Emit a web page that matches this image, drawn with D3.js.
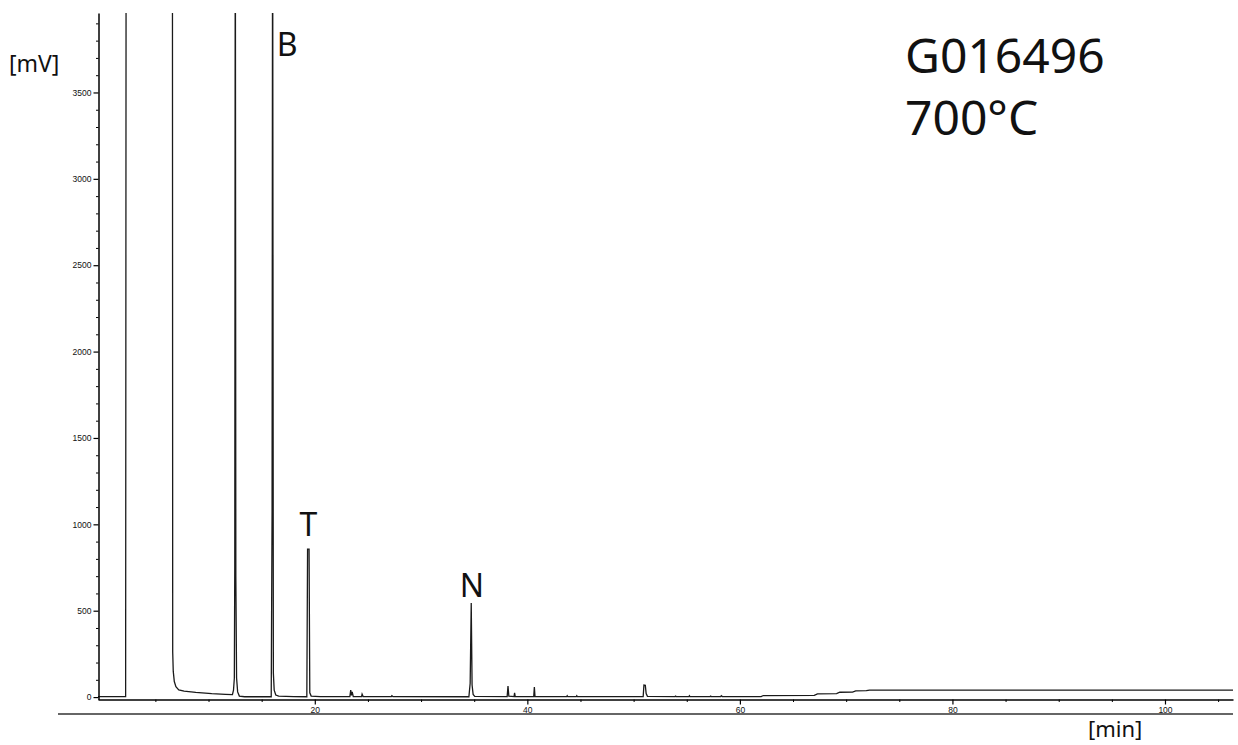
<!DOCTYPE html>
<meta charset="utf-8">
<html lang="en">
<head>
  <title>Chromatogram G016496 700°C</title>
  <script src="https://d3js.org/d3.v7.min.js"></script>
  <style>
    body { margin: 0; background: #fff; }
    .tick text { font-family: "Liberation Sans", Arial, sans-serif; font-size: 8.5px; fill: #111; }
    .lbl { font-family: "Noto Sans", sans-serif; fill: #111; }
  </style>
</head>
<body>
<div id="chart"></div>
<script>

// retention time [min] and detector signal [mV]
// (5000 = off scale, clipped at the top of the plot)
var traceTime = [-0.4, 2.2, 2.25, 6.6, 6.63, 6.68, 6.78, 6.93, 7.2, 7.7, 8.8, 10.3, 11.6, 12.25,
  12.35, 12.43, 12.47, 12.52, 12.57, 12.64, 12.74, 12.9, 13.4, 15.9, 15.98, 16.03, 16.1, 16.18, 16.33, 16.6,
  18.0, 19.25, 19.32, 19.46, 19.53, 19.66, 20.5, 23.3, 23.38, 23.45, 23.52, 23.62, 24.4, 24.45, 24.55,
  27.2, 27.25, 27.35, 34.5, 34.62, 34.72, 34.8, 34.9, 35.05, 38.1, 38.18, 38.26, 38.75, 38.8, 38.86,
  40.6, 40.66, 40.72, 43.7, 43.75, 43.8, 44.6, 44.65, 44.7, 50.9, 50.97, 51.1, 51.18, 51.3,
  53.9, 53.95, 54.0, 55.2, 55.25, 55.3, 57.2, 57.25, 57.3, 58.2, 58.25, 58.35,
  62.0, 62.2, 67.0, 67.3, 69.1, 69.4, 70.6, 70.9, 71.9, 72.2, 106.4];
var traceMV = [3, 3, 5000, 5000, 260, 150, 90, 60, 42, 34, 27, 20, 16, 14,
  40, 110, 760, 5000, 700, 110, 30, 6, 2, 2, 1080, 5000, 140, 40, 12, 5,
  3, 2, 856, 856, 25, 6, 3, 3, 40, 10, 30, 3, 3, 17, 3,
  3, 8, 3, 2, 80, 544, 70, 15, 4, 3, 64, 5, 3, 25, 3,
  3, 58, 3, 3, 8, 3, 3, 8, 3, 3, 70, 68, 20, 4,
  3, 6, 3, 3, 8, 3, 3, 6, 3, 3, 8, 3,
  3, 9, 10, 19, 20, 28, 29, 36, 37, 40, 40];

// axis ticks
var yMajor = [0, 500, 1000, 1500, 2000, 2500, 3000, 3500];
var yMinor = [100, 200, 300, 400, 600, 700, 800, 900, 1100, 1200, 1300, 1400, 1600, 1700, 1800, 1900,
  2100, 2200, 2300, 2400, 2600, 2700, 2800, 2900, 3100, 3200, 3300, 3400, 3600, 3700, 3800, 3900];
var xMajor = [20, 40, 60, 80, 100];
var xMinor = [5, 10, 15, 25, 30, 35, 45, 50, 55, 65, 70, 75, 85, 90, 95, 105];

// peak labels and sample caption
var peakNames = ["B", "T", "N"];
var peakTimes = [17.4, 19.39, 34.79];
var peakLabelMV = [3710, 930, 580];
var caption = ["G016496", "700°C"];

var width = 1238, height = 745;

var svg = d3.select("#chart")
  .append("svg")
    .attr("width", width)
    .attr("height", height);

var x = d3.scaleLinear()
    .domain([-0.4, 106.4])
    .range([98, 1233]);

var y = d3.scaleLinear()
    .domain([-14, 3960])
    .range([699.5, 13]);

// clip the trace to the plot area
svg.append("clipPath")
    .attr("id", "plotclip")
  .append("rect")
    .attr("x", 98)
    .attr("y", 13)
    .attr("width", 1233 - 98)
    .attr("height", 699.5 - 13);

var points = traceTime.map(function(t, i) { return [t, traceMV[i]]; });

var line = d3.line()
    .x(function(d) { return x(d[0]); })
    .y(function(d) { return y(d[1]); });

svg.append("path")
    .datum(points)
    .attr("clip-path", "url(#plotclip)")
    .attr("d", line)
    .attr("fill", "none")
    .attr("stroke", "#1a1a1a")
    .attr("stroke-width", 1.3)
    .attr("stroke-linejoin", "miter");

// Y axis: minor ticks, then major ticks with labels
svg.append("g")
    .attr("transform", "translate(98.5,0)")
    .call(d3.axisLeft(y).tickValues(yMinor).tickSize(2.5).tickFormat(""))
    .call(function(g) { g.select(".domain").remove(); });

svg.append("g")
    .attr("transform", "translate(98.5,0)")
    .call(d3.axisLeft(y).tickValues(yMajor).tickSize(5).tickSizeOuter(0).tickPadding(2)
      .tickFormat(d3.format("d")))
    .call(function(g) {
      g.select(".domain").attr("stroke", "#000").attr("stroke-width", 1.5);
      g.selectAll(".tick line").attr("stroke-width", 1.2);
    });

// X axis: minor ticks, then major ticks with labels
svg.append("g")
    .attr("transform", "translate(0,699.5)")
    .call(d3.axisBottom(x).tickValues(xMinor).tickSize(2.5).tickFormat(""))
    .call(function(g) { g.select(".domain").remove(); });

svg.append("g")
    .attr("transform", "translate(0,699.5)")
    .call(d3.axisBottom(x).tickValues(xMajor).tickSize(5).tickSizeOuter(0).tickPadding(2)
      .tickFormat(d3.format("d")))
    .call(function(g) {
      g.select(".domain").attr("stroke", "#000").attr("stroke-width", 1.5);
      g.selectAll(".tick line").attr("stroke-width", 1.2);
    });

// grey rule under the plot
svg.append("line")
    .attr("x1", 58)
    .attr("x2", 1233)
    .attr("y1", 714)
    .attr("y2", 714)
    .attr("stroke", "#666")
    .attr("stroke-width", 2);

// axis unit labels
svg.append("text")
    .attr("class", "lbl")
    .attr("x", 9)
    .attr("y", 72)
    .style("font-size", "23px")
    .text("[mV]");

svg.append("text")
    .attr("class", "lbl")
    .attr("x", 1088)
    .attr("y", 737)
    .style("font-size", "22px")
    .text("[min]");

// peak names
svg.selectAll(".peak")
  .data(peakNames)
  .enter()
  .append("text")
    .attr("class", "lbl peak")
    .attr("x", function(d, i) { return x(peakTimes[i]); })
    .attr("y", function(d, i) { return y(peakLabelMV[i]); })
    .attr("text-anchor", "middle")
    .style("font-size", "32px")
    .text(function(d) { return d; });

// sample caption
svg.selectAll(".cap")
  .data(caption)
  .enter()
  .append("text")
    .attr("class", "lbl cap")
    .attr("x", 905)
    .attr("y", function(d, i) { return 73 + i * 62; })
    .style("font-size", "48px")
    .text(function(d) { return d; });

</script>
</body>
</html>
